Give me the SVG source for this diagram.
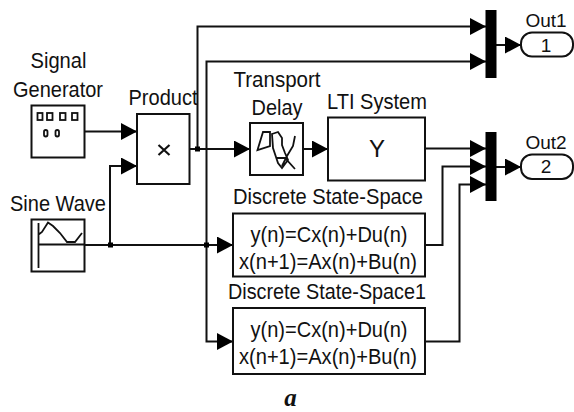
<svg xmlns="http://www.w3.org/2000/svg" width="574" height="412" viewBox="0 0 574 412">
<style>
text{font-family:"Liberation Sans",Arial,sans-serif;font-size:22px;fill:#111;text-anchor:middle}
.b{fill:#fff;stroke:#111;stroke-width:2}
.w{fill:none;stroke:#111;stroke-width:2}
.t{fill:none;stroke:#111;stroke-width:1.8}
</style>
<defs>
<marker id="a" markerUnits="userSpaceOnUse" markerWidth="17" markerHeight="18" refX="16" refY="8.5" orient="auto"><path d="M0 0L16 8.5L0 17Z" fill="#000"/></marker>
</defs>
<rect width="574" height="412" fill="#fff"/>
<g id="connectors">
<path class="w" d="M84 131.500H137" marker-end="url(#a)"/>
<path class="w" d="M110 245V166H137" marker-end="url(#a)"/>
<path class="w" d="M190 149H250" marker-end="url(#a)"/>
<path class="w" d="M197.500 149V26.500H486" marker-end="url(#a)"/>
<path class="w" d="M206.500 149V61.500H486" marker-end="url(#a)"/>
<path class="w" d="M84 245H233" marker-end="url(#a)"/>
<path class="w" d="M206.500 149V341.500H233" marker-end="url(#a)"/>
<path class="w" d="M303 149H328" marker-end="url(#a)"/>
<path class="w" d="M425 148.500H486" marker-end="url(#a)"/>
<path class="w" d="M425 245H442.500V166.500H486" marker-end="url(#a)"/>
<path class="w" d="M425 341.500H459.500V184.500H486" marker-end="url(#a)"/>
<path class="w" d="M496 45H521" marker-end="url(#a)"/>
<path class="w" d="M496 167H521" marker-end="url(#a)"/>
<rect x="195" y="146.500" width="5" height="5" fill="#000"/>
<rect x="108" y="242.500" width="5" height="5" fill="#000"/>
<rect x="204" y="242.500" width="5" height="5" fill="#000"/>
</g>
<g id="signal-generator">
<text x="58.500" y="68" textLength="56" lengthAdjust="spacingAndGlyphs">Signal</text><text x="58" y="96.500" textLength="90" lengthAdjust="spacingAndGlyphs">Generator</text>
<rect class="b" x="31.500" y="105.500" width="53" height="52"/>
<g class="t"><rect x="37.500" y="113" width="5" height="7"/><rect x="47" y="113" width="5.500" height="7"/><rect x="60" y="113" width="5.500" height="7"/><rect x="72" y="113" width="5.500" height="7"/><rect x="44" y="130" width="3.500" height="6.500" rx="1.700"/><rect x="55.500" y="130" width="3.500" height="6.500" rx="1.700"/></g>
</g>
<g id="sine-wave">
<text x="58" y="211" textLength="96" lengthAdjust="spacingAndGlyphs">Sine Wave</text>
<rect class="b" x="31.500" y="219.500" width="53" height="52"/>
<path class="t" d="M38.500 223V268M38.500 244.500H84M38 235L42 232L48 222.500L53 226L60 233L67 242H75L82 233"/>
</g>
<g id="product">
<text x="163" y="105" textLength="69" lengthAdjust="spacingAndGlyphs">Product</text>
<rect class="b" x="137" y="114" width="52.500" height="70"/>
<path d="M158.500 145L169.500 155M169.500 145L158.500 155" fill="none" stroke="#111" stroke-width="2.200"/>
</g>
<g id="transport-delay">
<text x="277" y="87" textLength="87" lengthAdjust="spacingAndGlyphs">Transport</text><text x="277" y="115" textLength="51" lengthAdjust="spacingAndGlyphs">Delay</text>
<rect class="b" x="250" y="123" width="53" height="52"/>
<path class="t" d="M257.500 150L263 132H270L270 146ZM272 134L278 132L282 138V145L285 153L288 160L282 168L278 163L273 148ZM295 136L293 146L287 156L282 166M277 158L285 158L295 169"/>
</g>
<g id="lti-system">
<text x="377" y="109" textLength="100" lengthAdjust="spacingAndGlyphs">LTI System</text>
<rect class="b" x="328" y="117.500" width="97" height="63"/>
<text x="377" y="157" style="font-size:24px">Y</text>
</g>
<g id="dss">
<text x="328" y="204" textLength="190" lengthAdjust="spacingAndGlyphs">Discrete State-Space</text>
<rect class="b" x="233" y="213.500" width="192" height="63"/>
<text x="329" y="242" textLength="157" lengthAdjust="spacingAndGlyphs">y(n)=Cx(n)+Du(n)</text><text x="328" y="268.500" textLength="178" lengthAdjust="spacingAndGlyphs">x(n+1)=Ax(n)+Bu(n)</text>
</g>
<g id="dss1">
<text x="327" y="299" textLength="198" lengthAdjust="spacingAndGlyphs">Discrete State-Space1</text>
<rect class="b" x="233" y="308" width="192" height="66"/>
<text x="329" y="337" textLength="157" lengthAdjust="spacingAndGlyphs">y(n)=Cx(n)+Du(n)</text><text x="328" y="363.500" textLength="178" lengthAdjust="spacingAndGlyphs">x(n+1)=Ax(n)+Bu(n)</text>
</g>
<g id="mux1"><rect x="485.500" y="10" width="11" height="68" fill="#000"/></g>
<g id="mux2"><rect x="485.500" y="132" width="11" height="69" fill="#000"/></g>
<g id="out1">
<text x="546" y="27" style="font-size:19px">Out1</text>
<rect class="b" x="521" y="32.500" width="52" height="24" rx="11"/>
<text x="546" y="51.500" style="font-size:19px">1</text>
</g>
<g id="out2">
<text x="546" y="148.500" style="font-size:19px">Out2</text>
<rect class="b" x="521" y="154.500" width="52" height="24.500" rx="11"/>
<text x="546" y="173" style="font-size:19px">2</text>
</g>
<text x="290.500" y="406" style="font-family:'Liberation Serif',serif;font-style:italic;font-weight:bold;font-size:25px">a</text>
</svg>
